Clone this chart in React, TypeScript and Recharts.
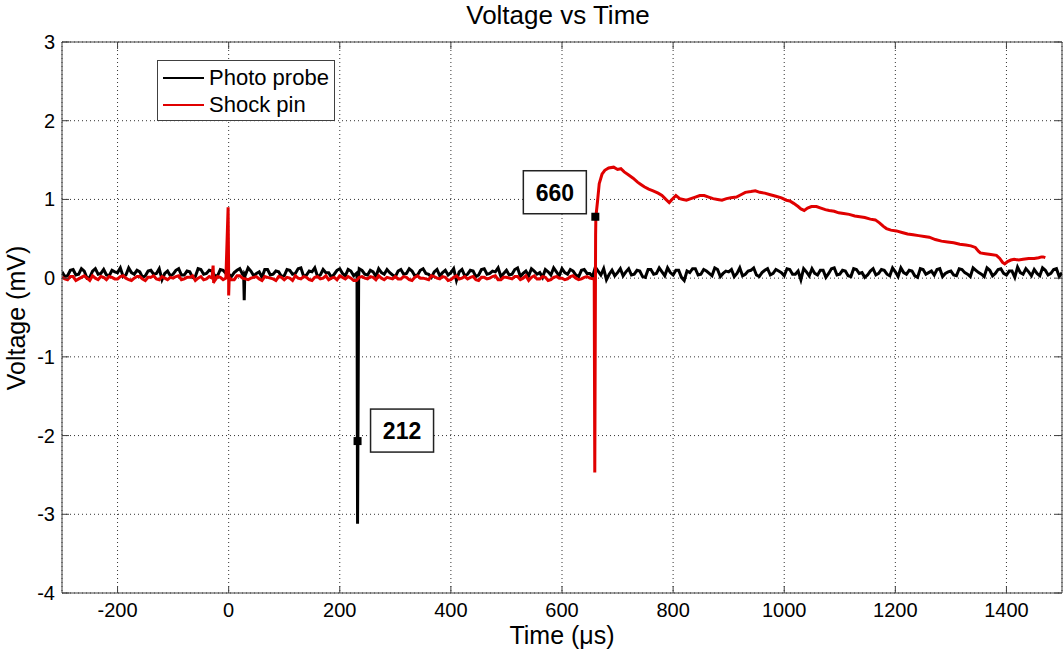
import {
  LineChart,
  Line,
  XAxis,
  YAxis,
  CartesianGrid,
  ReferenceLine,
  ReferenceDot,
  Legend,
} from 'recharts';

// sampling grid of the scope traces (two interleaved sets, 5 µs apart)
const T0 = -300;
const DT = 10;
const HALF = 5;

// photo probe noise, every 10 µs from -300 to 1500
const probeNoise = [
  0.08, 0.03, 0.11, 0.05, 0.09, 0.01, 0.12, 0.06, 0.04, 0.10, 0.07, 0.02, 0.13, 0.05, 0.08, 0.03, 0.10, 0.06, -0.02, 0.09,
  0.05, 0.12, 0.04, 0.08, 0.02, 0.11, 0.06, 0.09, 0.03, 0.10, 0.05, 0.07, 0.12, 0.04, 0.09, 0.06, 0.01, 0.11, 0.05, 0.08,
  0.03, 0.10, 0.06, 0.13, 0.04, 0.08, 0.02, 0.11, 0.07, 0.05, 0.12, 0.03, 0.09, 0.06, 0.10, 0.04, 0.08, 0.12, 0.05, 0.07,
  0.02, 0.11, 0.06, 0.09, 0.04, 0.12, 0.05, 0.08, 0.03, 0.10, 0.07, -0.03, 0.11, 0.05, 0.09, 0.04, 0.12, 0.06, 0.08, 0.02,
  0.10, 0.05, 0.13, 0.06, 0.03, 0.09, 0.07, 0.11, 0.04, 0.08, 0.12, 0.05, 0.09, 0.02, 0.11, 0.06, 0.14, 0.04, -0.02, 0.10,
  0.07, 0.03, 0.12, 0.05, 0.09, 0.01, 0.11, 0.06, 0.08, 0.13, 0.04, 0.10, -0.03, 0.07, 0.12, 0.05, 0.09, 0.03, 0.11, 0.06,
  0.08, 0.02, 0.13, 0.05, 0.10, 0.04, 0.07, 0.12, 0.06, 0.09, 0.03, 0.11, 0.05, -0.02, 0.08, 0.12, 0.04, 0.10, 0.06, 0.13,
  0.05, 0.09, 0.02, 0.11, 0.07, 0.04, 0.12, 0.06, 0.10, 0.03, 0.08, 0.13, 0.05, 0.09, 0.01, 0.11, 0.07, 0.04, 0.12, 0.06,
  0.09, 0.03, 0.11, 0.05, 0.13, 0.07, 0.02, 0.10, 0.06, 0.12, 0.04, 0.09, 0.14, 0.05, 0.08, 0.11, 0.03, 0.10, 0.06, 0.12,
  0.07,
];

// photo probe noise at the in-between samples, -295 to 1495
const probeNoiseHalf = [
  0.02, 0.10, 0.04, 0.12, 0.00, 0.09, 0.05, 0.11, 0.03, 0.08, 0.13, 0.04, 0.07, 0.10, 0.01, 0.09, 0.05, 0.12, 0.06, 0.03,
  0.10, 0.04, 0.09, 0.01, 0.12, 0.05, 0.10, 0.03, 0.11, 0.06, 0.02, 0.10, 0.05, 0.13, 0.03, 0.08, 0.11, 0.04, 0.09, 0.02,
  0.11, 0.05, 0.12, 0.02, 0.09, 0.13, 0.04, 0.07, 0.01, 0.10, 0.06, 0.11, 0.03, 0.12, 0.05, 0.10, 0.02, 0.07, 0.11, 0.04,
  0.09, 0.05, 0.12, 0.03, 0.10, 0.06, 0.01, 0.11, 0.07, 0.04, 0.12, 0.08, 0.03, 0.10, 0.02, 0.11, 0.05, 0.09, 0.13, 0.06,
  0.04, 0.11, 0.02, 0.09, 0.12, 0.05, 0.01, 0.08, 0.13, 0.03, 0.07, 0.11, 0.04, 0.10, 0.06, 0.02, 0.09, 0.12, 0.05, 0.03,
  0.12, 0.08, 0.04, 0.10, 0.02, 0.11, 0.05, 0.13, 0.03, 0.07, 0.10, 0.01, 0.09, 0.12, 0.04, 0.11, 0.06, 0.13, 0.02, 0.09,
  0.11, 0.06, 0.03, 0.09, 0.13, 0.02, 0.10, 0.04, 0.11, 0.07, 0.12, 0.05, 0.09, 0.12, 0.03, 0.06, 0.10, 0.01, 0.12, 0.04,
  0.10, 0.03, 0.12, 0.06, 0.01, 0.09, 0.04, 0.11, 0.05, 0.13, 0.02, 0.07, 0.10, 0.03, 0.12, 0.05, 0.09, 0.11, 0.02, 0.08,
  0.04, 0.12, 0.07, 0.02, 0.10, 0.05, 0.13, 0.03, 0.11, 0.06, 0.09, 0.01, 0.07, 0.12, 0.03, 0.06, 0.13, 0.04, 0.11, 0.02,
];

// photo probe spikes [time, voltage]
const probeSpikes = [
  [27, 0.04], [28, -0.28], [29, 0.05],
  [231, 0.02], [232, -3.12], [234, 0.03],
];

// shock pin baseline, every 10 µs from -300 to 650
const pinNoise = [
  0.01, -0.02, 0.02, -0.01, 0.03, -0.03, 0.00, 0.02, -0.02, 0.01, -0.01, 0.03, -0.02, 0.00, 0.02, -0.03, 0.01, -0.01, 0.02, -0.02,
  0.00, 0.03, -0.01, 0.01, -0.03, 0.02, -0.01, 0.00, 0.02, -0.02, 0.01, -0.02, 0.03, -0.01, 0.00, 0.02, -0.03, 0.01, -0.01, 0.02,
  -0.02, 0.00, 0.03, -0.01, 0.01, -0.03, 0.02, 0.00, -0.02, 0.01, 0.03, -0.01, 0.00, -0.03, 0.02, -0.01, 0.01, 0.03, -0.02, 0.00,
  0.02, -0.01, 0.01, -0.03, 0.03, 0.00, -0.02, 0.02, -0.01, 0.01, -0.02, 0.03, 0.00, -0.01, 0.02, -0.03, 0.01, 0.00, 0.03, -0.02,
  0.01, -0.01, 0.02, 0.00, -0.03, 0.03, -0.01, 0.01, -0.02, 0.02, 0.00, -0.01, 0.03, -0.02, 0.01, 0.00,
];

// shock pin baseline at the in-between samples, -295 to 645
const pinNoiseHalf = [
  -0.01, 0.02, -0.03, 0.01, 0.00, 0.03, -0.02, 0.01, 0.02, -0.01, 0.02, 0.00, -0.03, 0.02, -0.01, 0.01, 0.03, -0.02, 0.00, 0.01,
  0.02, -0.02, 0.01, 0.03, 0.00, -0.02, 0.02, -0.03, 0.01, 0.00, -0.02, 0.03, 0.00, -0.02, 0.01, -0.01, 0.02, 0.00, -0.03, 0.01,
  0.01, -0.03, 0.00, 0.02, -0.02, 0.01, -0.01, 0.03, 0.00, -0.02, 0.01, 0.02, -0.03, 0.01, 0.00, 0.02, -0.02, 0.00, 0.01, -0.01,
  -0.01, 0.02, -0.02, 0.01, 0.00, -0.01, 0.03, 0.00, 0.02, -0.03, 0.01, -0.01, 0.02, 0.01, -0.02, 0.01, -0.01, 0.02, -0.02, 0.01,
  0.00, 0.02, -0.02, 0.03, 0.01, -0.01, 0.02, -0.03, 0.01, 0.00, -0.02, 0.02, 0.00, -0.01, 0.02,
];

// shock pin spikes and the pulse after arrival [time, voltage]
const pinPulse = [
  [-28, 0.16], [-27, -0.06], [-26, 0.02],
  [-1, 0.9], [0, -0.22], [1, 0.01],
  [658, -0.01], [659, -2.47], [660.5, 0.55], [661, 0.78],
  [664, 0.98], [667, 1.2], [672, 1.32], [677, 1.37], [684, 1.4], [693, 1.41], [700, 1.38], [706, 1.39],
  [712, 1.35], [720, 1.31], [728, 1.27], [736, 1.22], [742, 1.19], [748, 1.16], [756, 1.13], [764, 1.11],
  [773, 1.08], [780, 1.05], [787, 1.0], [793, 0.96], [798, 1.0], [805, 1.05], [812, 1.01], [818, 1.0],
  [824, 0.99], [832, 1.01], [840, 1.03], [848, 1.05], [856, 1.05], [864, 1.03], [872, 1.01], [880, 1.0],
  [888, 0.99], [896, 1.01], [904, 1.02], [914, 1.03], [922, 1.06], [930, 1.09], [940, 1.1], [948, 1.11],
  [956, 1.09], [965, 1.08], [975, 1.06], [985, 1.04], [995, 1.02], [1004, 0.99], [1010, 0.98], [1017, 0.95],
  [1025, 0.91], [1030, 0.88], [1036, 0.86], [1042, 0.89], [1049, 0.91], [1058, 0.91], [1066, 0.89], [1074, 0.87],
  [1081, 0.86], [1090, 0.85], [1098, 0.83], [1107, 0.82], [1117, 0.81], [1127, 0.79], [1136, 0.78], [1145, 0.77],
  [1155, 0.75], [1164, 0.74], [1172, 0.7], [1178, 0.66], [1184, 0.63], [1192, 0.61], [1202, 0.6], [1212, 0.58],
  [1222, 0.56], [1232, 0.55], [1242, 0.54], [1252, 0.53], [1261, 0.52], [1272, 0.49], [1283, 0.47], [1294, 0.46],
  [1305, 0.45], [1316, 0.43], [1327, 0.42], [1336, 0.41], [1344, 0.39], [1350, 0.34], [1353, 0.32], [1362, 0.31],
  [1372, 0.3], [1382, 0.29], [1388, 0.25], [1393, 0.2], [1397, 0.18], [1402, 0.21], [1408, 0.23], [1414, 0.24],
  [1422, 0.23], [1430, 0.24], [1440, 0.25], [1450, 0.25], [1458, 0.26], [1463, 0.27], [1466, 0.27], [1470, 0.26],
];

const xTicks = [-200, 0, 200, 400, 600, 800, 1000, 1200, 1400];
const yTicks = [-4, -3, -2, -1, 0, 1, 2, 3];

// data tips shown on the plot
const tips = [
  { t: 232, v: -2.07, label: '212', dx: 13, dy: -32 },
  { t: 660, v: 0.78, label: '660', dx: -72, dy: -46 },
];

const FONT = '"Liberation Sans", Arial, Helvetica, sans-serif';
const W = 1063;
const H = 649;
const LEFT = 62;
const TOP = 42;
const RIGHT = 1062;
const BOTTOM = 593;
const AXIS = '#404040';

const toPoints = (arr: number[][]) => arr.map(([t, v]) => ({ t, v }));
const onGrid = (arr: number[], start: number) => arr.map((v, i) => ({ t: start + i * DT, v }));

const photoData = [
  ...onGrid(probeNoise, T0),
  ...onGrid(probeNoiseHalf, T0 + HALF),
  ...toPoints(probeSpikes),
].sort((a, b) => a.t - b.t);

const shockData = [
  ...onGrid(pinNoise, T0),
  ...onGrid(pinNoiseHalf, T0 + HALF),
  ...toPoints(pinPulse),
].sort((a, b) => a.t - b.t);

const XTick = ({ x, payload }: any) => (
  <g>
    <line x1={x} y1={BOTTOM} x2={x} y2={BOTTOM - 7} stroke={AXIS} />
    <line x1={x} y1={TOP} x2={x} y2={TOP + 7} stroke={AXIS} />
    <text x={x} y={617} textAnchor="middle" fontSize={20} fontFamily={FONT} fill="#000">
      {payload.value}
    </text>
  </g>
);

const YTick = ({ y, payload }: any) => (
  <g>
    <line x1={LEFT} y1={y} x2={LEFT + 7} y2={y} stroke={AXIS} />
    <line x1={RIGHT} y1={y} x2={RIGHT - 7} y2={y} stroke={AXIS} />
    <text x={55} y={y + 7} textAnchor="end" fontSize={20} fontFamily={FONT} fill="#000">
      {payload.value}
    </text>
  </g>
);

const YLabel = () => (
  <text
    x={25}
    y={318}
    transform="rotate(-90 25 318)"
    textAnchor="middle"
    fontSize={25}
    fontFamily={FONT}
    fill="#000"
  >
    Voltage (mV)
  </text>
);

const TipShape = ({ cx, cy, tip }: any) => (
  <g>
    <rect x={cx - 4} y={cy - 4} width={8} height={8} fill="#000" />
    <rect x={cx + tip.dx} y={cy + tip.dy} width={63} height={43} fill="#fff" stroke="#222" strokeWidth={1.5} />
    <text
      x={cx + tip.dx + 31.5}
      y={cy + tip.dy + 30}
      textAnchor="middle"
      fontSize={23}
      fontWeight="bold"
      fontFamily={FONT}
      fill="#000"
    >
      {tip.label}
    </text>
  </g>
);

const LegendBox = () => (
  <div
    style={{
      width: 176,
      height: 59,
      border: `1px solid ${AXIS}`,
      background: '#fff',
      fontFamily: FONT,
      fontSize: 22,
      position: 'relative',
    }}
  >
    {[
      { name: 'Photo probe', color: '#000', top: 4 },
      { name: 'Shock pin', color: '#e00000', top: 31 },
    ].map((it) => (
      <div key={it.name} style={{ position: 'absolute', left: 5, top: it.top, display: 'flex', alignItems: 'center', lineHeight: '26px' }}>
        <span style={{ display: 'inline-block', width: 41, height: 2, background: it.color, marginRight: 5 }} />
        <span>{it.name}</span>
      </div>
    ))}
  </div>
);

export default function App() {
  return (
    <div style={{ position: 'absolute', left: 0, top: 0, width: W, height: H, background: '#fff' }}>
      <div
        style={{
          position: 'absolute',
          left: 0,
          width: 1116,
          top: 0,
          textAlign: 'center',
          fontFamily: FONT,
          fontSize: 26,
          lineHeight: '30px',
        }}
      >
        Voltage vs Time
      </div>
      <LineChart width={W} height={H} margin={{ top: TOP, right: W - RIGHT, left: 0, bottom: 0 }}>
        <CartesianGrid stroke="#333" strokeDasharray="1 3" />
        <XAxis
          type="number"
          dataKey="t"
          domain={[-300, 1500]}
          ticks={xTicks}
          allowDataOverflow
          height={H - BOTTOM}
          tickLine={false}
          tickSize={0}
          axisLine={{ stroke: AXIS }}
          tick={<XTick />}
          label={{
            value: 'Time (μs)',
            position: 'insideBottom',
            offset: 5,
            fontSize: 25,
            fontFamily: FONT,
            fill: '#000',
          }}
        />
        <YAxis
          type="number"
          domain={[-4, 3]}
          ticks={yTicks}
          allowDataOverflow
          width={LEFT}
          tickLine={false}
          tickSize={0}
          axisLine={{ stroke: AXIS }}
          tick={<YTick />}
          label={<YLabel />}
        />
        <ReferenceLine y={3} stroke={AXIS} />
        <ReferenceLine x={1500} stroke={AXIS} />
        <Line
          data={photoData}
          dataKey="v"
          name="Photo probe"
          type="linear"
          stroke="#000"
          strokeWidth={3}
          dot={false}
          isAnimationActive={false}
        />
        <Line
          data={shockData}
          dataKey="v"
          name="Shock pin"
          type="linear"
          stroke="#e00000"
          strokeWidth={3}
          dot={false}
          isAnimationActive={false}
        />
        {tips.map((tip) => (
          <ReferenceDot
            key={tip.label}
            x={tip.t}
            y={tip.v}
            r={4}
            shape={(p: any) => <TipShape {...p} tip={tip} />}
          />
        ))}
        <Legend
          layout="vertical"
          align="center"
          verticalAlign="middle"
          content={() => <LegendBox />}
          wrapperStyle={{ left: 157, top: 60, width: 178, height: 61 }}
        />
      </LineChart>
    </div>
  );
}
